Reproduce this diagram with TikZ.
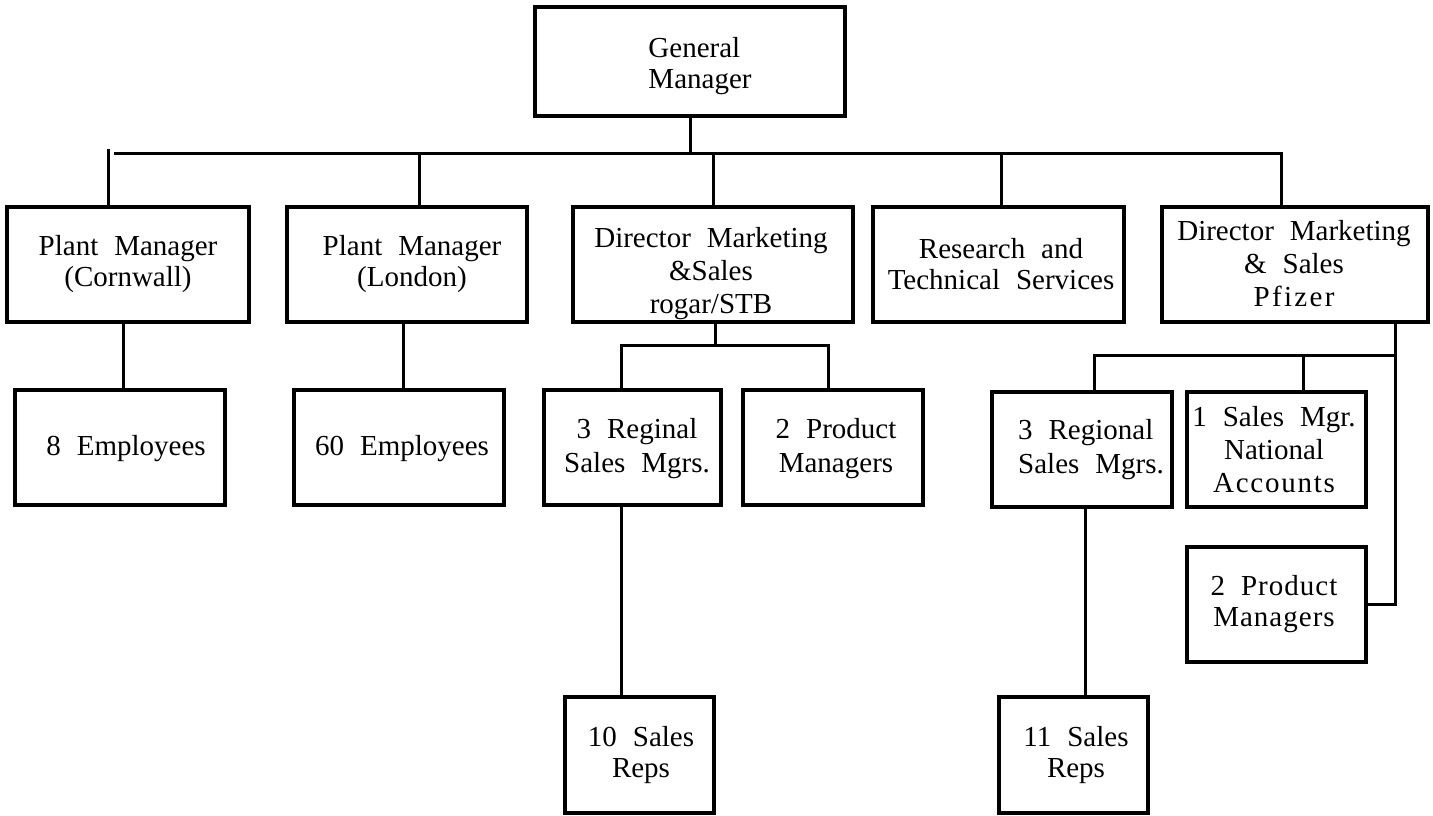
\documentclass[tikz,border=0pt]{standalone}
\usepackage{fontspec}
\setmainfont{Liberation Serif}
\usetikzlibrary{calc}
% chart lettering: serif with generous word spacing
\newcommand\orgfont{\fontsize{14.5}{15.5}\selectfont\spaceskip=0.55em plus 0.1em minus 0.05em\relax}
\newcommand\orgfontiii{\fontsize{14.5}{16.5}\selectfont\spaceskip=0.55em plus 0.1em minus 0.05em\relax}
\newcommand\orgfontwide{\fontsize{14.5}{17}\selectfont\spaceskip=0.55em plus 0.1em minus 0.05em\relax}
\newcommand\tracked[2]{{\addfontfeature{LetterSpace=#1}#2}}
\tikzset{
  box/.style={draw, line width=1.6pt, inner sep=0pt},
  sz/.style 2 args={minimum width=#1*0.5pt, minimum height=#2*0.5pt},
  conn/.style={line width=1.5pt},
  txt/.style={font=\orgfont, align=center, inner sep=0pt},
  txtiii/.style={font=\orgfontiii, align=center, inner sep=0pt},
  txtwide/.style={font=\orgfontwide, align=center, inner sep=0pt}
}
\begin{document}
\begin{tikzpicture}[x=0.5pt,y=-0.5pt]

\fill[white] (0,0) rectangle (1433,815);
\useasboundingbox (0,0) rectangle (1433,815);

% ---- boxes ----
\node[box, line width=2pt, sz={310}{109}] (gm) at (690,61.5) {};

\node[box, sz={242}{115}] (cornwall) at (128,264.5) {};
\node[box, sz={240}{115}] (london)   at (407,264.5) {};
\node[box, sz={280}{115}] (dirrog)   at (713,264.5) {};
\node[box, sz={251}{115}] (research) at (998.5,264.5) {};
\node[box, sz={266}{115}] (dirpf)    at (1295,264.5) {};

\node[box, sz={210}{115}] (emp8)    at (120,447.5) {};
\node[box, sz={210}{115}] (emp60)   at (399,447.5) {};
\node[box, sz={177}{115}] (regrog)  at (632.5,447.5) {};
\node[box, sz={180}{115}] (prodrog) at (833,447.5) {};
\node[box, sz={149}{116}] (reps10)  at (639.5,755) {};

\node[box, sz={180}{115}] (regpf)  at (1082,449.5) {};
\node[box, sz={179}{115}] (natl)   at (1276.5,449.5) {};
\node[box, sz={179}{115}] (prodpf) at (1276.5,604.5) {};
\node[box, sz={149}{116}] (reps11) at (1073.5,755) {};

% ---- labels ----
\node[txt, align=left] (gm-t) at (700,66) {General\\Manager};
\node[txt] (cornwall-t) at (128,264.5) {Plant Manager\\(Cornwall)};
\node[txt] (london-t)   at (412,264.5) {Plant Manager\\(London)};
\node[txtiii] (dirrog-t) at (711,274) {Director Marketing\\\&Sales\\rogar/STB};
\node[txt] (research-t) at (1001,264.5) {Research and\\Technical Services};
\node[txtiii] (dirpf-t) at (1294,264) {Director Marketing\\\& Sales\\\tracked{8}{Pfizer}};

\node[txt] (emp8-t)    at (126,448.5) {8 Employees};
\node[txt] (emp60-t)   at (402,448.5) {60 Employees};
\node[txtwide] (regrog-t)  at (637,448.5) {3 Reginal\\Sales Mgrs.};
\node[txtwide] (prodrog-t) at (836,449) {2 Product\\Managers};
\node[txt] (reps10-t)  at (641,755) {10 Sales\\Reps};

\node[txtwide, align=left] (regpf-t) at (1091,450) {3 Regional\\Sales Mgrs.};
\node[txtiii] (natl-t)   at (1274,450) {1 Sales Mgr.\\National\\\tracked{6}{Accounts}};
\node[txt] (prodpf-t)    at (1274,604.5) {\tracked{3.5}{2 Product}\\\tracked{3.5}{Managers}};
\node[txt] (reps11-t)    at (1076,755) {11 Sales\\Reps};

% ---- top level bus ----
\coordinate (busL) at (108,149);
\coordinate (busS) at (114,153);
\coordinate (busR) at (1281,153);
\draw[conn] (gm.south) -- (gm.south |- busR);
\draw[conn] (busL) -- (busL |- cornwall.north);
\draw[conn] (busS) -- (busR) -- (busR |- dirpf.north);
\coordinate (lonTop) at ([xshift=6pt]london.north);
\draw[conn] (lonTop) -- (lonTop |- busR);
\draw[conn] (dirrog.north) -- (dirrog.north |- busR);
\coordinate (resTop) at ([xshift=1.25pt]research.north);
\draw[conn] (resTop) -- (resTop |- busR);

% ---- plants ----
\coordinate (cwDrop) at ([xshift=1.5pt]emp8.north);
\draw[conn] (cwDrop) -- (cwDrop |- cornwall.south);
\coordinate (lnDrop) at ([xshift=2pt]emp60.north);
\draw[conn] (lnDrop) -- (lnDrop |- london.south);

% ---- marketing & sales (rogar/STB) ----
\coordinate (rogBar) at (715,345);
\coordinate (rogL) at ([xshift=-5.75pt]regrog.north);
\coordinate (rogR) at ([xshift=-2.5pt]prodrog.north);
\draw[conn] (rogBar |- dirrog.south) -- (rogBar);
\draw[conn] (rogL) -- (rogL |- rogBar) -- (rogR |- rogBar) -- (rogR);
\coordinate (repsA) at ([xshift=-9.25pt]reps10.north);
\draw[conn] (repsA |- regrog.south) -- (repsA);

% ---- marketing & sales (Pfizer) ----
\coordinate (pfBar) at (1395,355);
\coordinate (pfL) at ([xshift=6pt]regpf.north);
\coordinate (pfM) at ([xshift=13.25pt]natl.north);
\draw[conn] (pfBar |- dirpf.south) -- (pfBar |- prodpf.east) -- (prodpf.east);
\draw[conn] (pfL) -- (pfL |- pfBar) -- (pfBar);
\draw[conn] (pfM) -- (pfM |- pfBar);
\coordinate (repsB) at ([xshift=5.75pt]reps11.north);
\draw[conn] (repsB |- regpf.south) -- (repsB);
\end{tikzpicture}
\end{document}
